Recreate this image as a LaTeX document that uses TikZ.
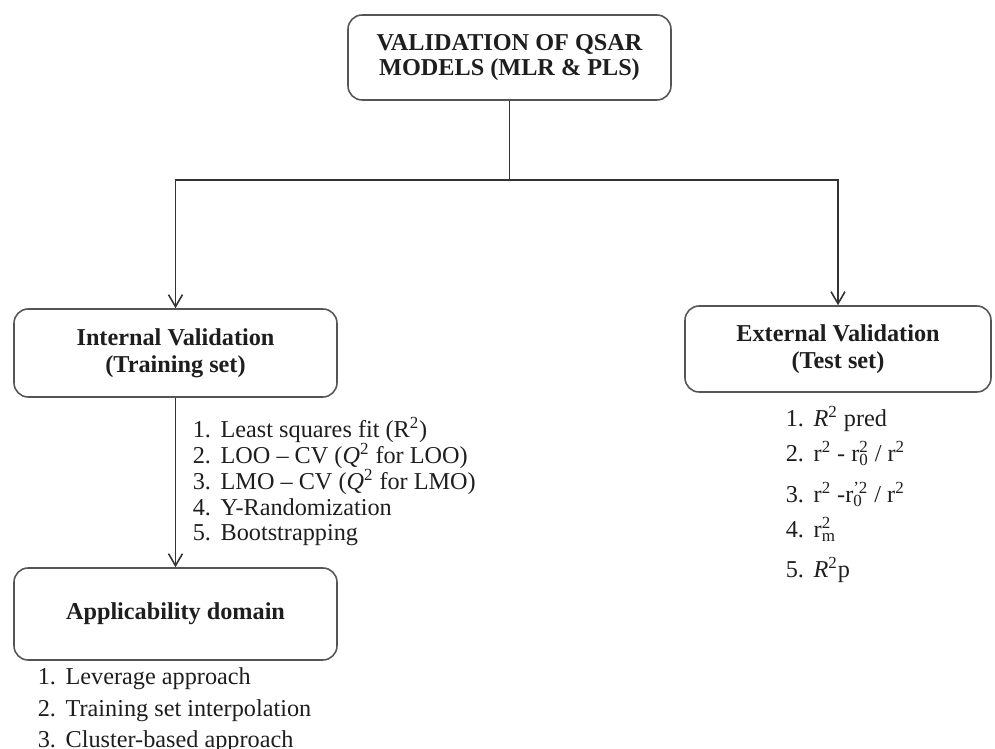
\documentclass[tikz,border=0pt]{standalone}
\usepackage{fontspec}
\setmainfont{Liberation Serif}
\usepackage{tikz}
\usetikzlibrary{arrows.meta, positioning, calc}
\definecolor{inkc}{HTML}{1E1E1E}
\definecolor{linec}{HTML}{333333}
\definecolor{boxc}{HTML}{555555}
\newcommand{\itm}[2]{\makebox[1.15em][l]{#1}#2}
\newcommand{\sbsp}[2]{\makebox[0pt][l]{\textsubscript{#1}}\textsuperscript{#2}}
\newcommand{\sqr}{\textsuperscript{2}}

\begin{document}
\begin{tikzpicture}[x=0.02cm, y=-0.02cm, line width=0.9pt,
      every node/.style={text=inkc},
      stage/.style={draw=boxc, rounded corners=8pt, line width=0.9pt,
        align=center, font=\fontsize{13.8}{14.6}\selectfont\bfseries,
        inner sep=0pt},
      item/.style={anchor=base west, inner sep=0pt,
        font=\fontsize{13.8}{15}\selectfont},
      flow/.style={->, linec, >={Straight Barb[length=2.4mm, width=2.8mm]}}]
    \useasboundingbox (0,0) rectangle (995,749);
    % boxes
    \node[stage, minimum width=6.46cm, minimum height=1.70cm] (title)
      at (509.5,57.5) {VALIDATION OF QSAR\\MODELS (MLR \& PLS)};
    \node[stage, minimum width=6.46cm, minimum height=1.76cm,
      font=\fontsize{13.8}{15.4}\selectfont\bfseries] (intval)
      at (175.5,353) {Internal Validation\\(Training set)};
    \node[stage, minimum width=6.12cm, minimum height=1.72cm,
      font=\fontsize{13.8}{15.4}\selectfont\bfseries] (extval)
      at (838,349) {External Validation\\(Test set)};
    \node[stage, minimum width=6.46cm, minimum height=1.84cm] (appdom)
      at (175.5,614) {Applicability domain};
    % connectors
    \coordinate (split) at ($(title.south)+(0,79)$);
    \draw[linec] (title.south) -- (split);
    \draw[flow] (split) -| (intval.north);
    \draw[flow] (split) -| (extval.north);
    \draw[flow] (intval.south) -- (appdom.north);
    % lists
    \foreach \i/\y/\t in {
        1/438/{Least squares fit (R\sqr)},
        2/464/{LOO -- CV (\textit{Q}\sqr\ for LOO)},
        3/490/{LMO -- CV (\textit{Q}\sqr\ for LMO)},
        4/516/{Y-Randomization},
        5/541/{Bootstrapping}}
      \node[item] (iv\i) at (192,\y) {\itm{\i.}{\t}};
    \foreach \i/\y/\t in {
        1/427/{\textit{R}\sqr\ pred},
        2/462/{r\sqr\ - r\sbsp{0}{2} / r\sqr},
        3/503/{r\sqr\ -r\sbsp{0}{'2} / r\sqr},
        4/538/{r\sbsp{m}{2}},
        5/578/{\textit{R}\sqr p}}
      \node[item] (ev\i) at (785,\y) {\itm{\i.}{\t}};
    \foreach \i/\y/\t in {
        1/685/{Leverage approach},
        2/717/{Training set interpolation},
        3/748/{Cluster-based approach}}
      \node[item] (ad\i) at (37,\y) {\itm{\i.}{\t}};
  \end{tikzpicture}
\end{document}
